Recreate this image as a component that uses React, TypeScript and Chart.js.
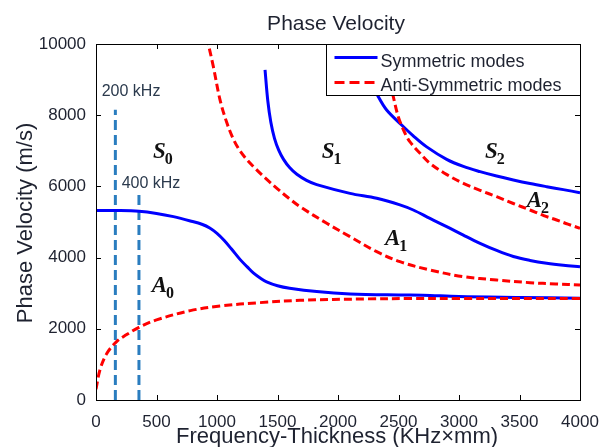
import React, { useEffect, useRef } from 'react';
import { Chart, registerables } from 'chart.js';

Chart.register(...registerables);

// ---- data (frequency-thickness in KHz·mm, phase velocity in m/s) ----
const S0_X = [0, 200, 355, 500, 640, 780, 880, 940, 1000, 1060, 1120, 1190, 1250, 1300, 1360, 1410, 1500, 1600, 1824, 2100, 2500, 2700, 3000, 3500, 4000];
const S0_Y = [5320, 5320, 5300, 5240, 5150, 5030, 4930, 4830, 4680, 4480, 4240, 3950, 3740, 3570, 3420, 3320, 3210, 3140, 3045, 2980, 2950, 2945, 2905, 2880, 2860];

const S1_X = [1397, 1420, 1445, 1475, 1510, 1550, 1600, 1660, 1740, 1824, 2099, 2320, 2512, 2622, 2760, 2898, 3036, 3174, 3311, 3449, 3587, 3725, 3862, 4000];
const S1_Y = [9270, 8400, 7800, 7350, 7020, 6760, 6530, 6340, 6170, 6050, 5805, 5665, 5480, 5337, 5100, 4870, 4630, 4400, 4200, 4030, 3920, 3840, 3785, 3745];

const S2_X = [2250, 2333, 2402, 2526, 2622, 2733, 2898, 3036, 3174, 3311, 3449, 3587, 3725, 3862, 4000];
const S2_Y = [9100, 8520, 8146, 7725, 7420, 7110, 6760, 6560, 6414, 6290, 6180, 6080, 5992, 5910, 5824];

const A0_X = [0, 33, 88, 170, 250, 355, 500, 780, 1025, 1355, 1686, 2237, 2600, 3000, 4000];
const A0_Y = [300, 850, 1300, 1640, 1830, 2040, 2250, 2510, 2640, 2735, 2800, 2840, 2850, 2850, 2850];

const A1_X = [915, 970, 1025, 1080, 1135, 1190, 1250, 1320, 1400, 1500, 1600, 1686, 1907, 2099, 2320, 2512, 2760, 3036, 3311, 3587, 3800, 4000];
const A1_Y = [10200, 9360, 8430, 7800, 7330, 7000, 6740, 6490, 6230, 5930, 5650, 5430, 4963, 4588, 4166, 3885, 3652, 3464, 3371, 3296, 3260, 3230];

const A2_X = [2430, 2457, 2498, 2539, 2568, 2595, 2678, 2760, 2900, 3036, 3174, 3311, 3449, 3587, 3700, 3807, 3900, 4000];
const A2_Y = [8950, 8520, 7958, 7600, 7397, 7250, 6929, 6648, 6330, 6086, 5890, 5711, 5520, 5337, 5180, 5056, 4940, 4822];

const F200_X = [160, 160];
const F200_Y = [0, 8150];
const F400_X = [355, 355];
const F400_Y = [0, 5850];

const X_MIN = 0, X_MAX = 4000, X_STEP = 500;
const Y_MIN = 0, Y_MAX = 10000, Y_STEP = 2000;

const TITLE = 'Phase Velocity';
const X_TITLE = 'Frequency-Thickness (KHz\u00D7mm)';
const Y_TITLE = 'Phase Velocity (m/s)';
const LEGEND_LABELS = ['Symmetric modes', 'Anti-Symmetric modes'];

// mode annotations (anchored in data units)
const MODE_MAIN = ['S', 'S', 'S', 'A', 'A', 'A'];
const MODE_SUB = ['0', '1', '2', '0', '1', '2'];
const MODE_X = [471, 1865, 3215, 460, 2388, 3559];
const MODE_Y = [6798, 6798, 6790, 3034, 4354, 5430];

const FREQ_TEXT = ['200 kHz', '400 kHz'];
const FREQ_TX = [47, 212];
const FREQ_TY = [8540, 5947];

const SANS = '"Liberation Sans", Arial, sans-serif';
const SERIF = '"Liberation Serif", "Times New Roman", serif';
const TEXT = '#1e2230';
const BLUE = '#0000ff';
const RED = '#ff0000';
const STEEL = '#2a7dbf';

const pts = (xs: number[], ys: number[]) => xs.map((v, i) => ({ x: v, y: ys[i] }));

const overlay = {
  id: 'overlay',
  afterDatasetsDraw(chart: any) {
    const { ctx, chartArea: ca, scales } = chart;
    const sx = scales.x, sy = scales.y;
    ctx.save();

    // mode labels
    ctx.fillStyle = '#111';
    ctx.textAlign = 'left';
    ctx.textBaseline = 'alphabetic';
    for (let i = 0; i < MODE_MAIN.length; i++) {
      const px = sx.getPixelForValue(MODE_X[i]);
      const py = sy.getPixelForValue(MODE_Y[i]);
      ctx.font = 'italic bold 23px ' + SERIF;
      ctx.fillText(MODE_MAIN[i], px, py);
      const w = ctx.measureText(MODE_MAIN[i]).width;
      ctx.font = 'bold 16px ' + SERIF;
      ctx.fillText(MODE_SUB[i], px + w - 1, py + 6);
    }

    // frequency labels
    ctx.font = '16px ' + SANS;
    ctx.fillStyle = '#2b3a4d';
    for (let i = 0; i < FREQ_TEXT.length; i++) {
      ctx.fillText(FREQ_TEXT[i], sx.getPixelForValue(FREQ_TX[i]), sy.getPixelForValue(FREQ_TY[i]));
    }

    // axes box + inward ticks
    ctx.strokeStyle = '#000';
    ctx.lineWidth = 1;
    ctx.setLineDash([]);
    ctx.beginPath();
    for (let v = X_MIN; v <= X_MAX; v += X_STEP) {
      const px = Math.round(sx.getPixelForValue(v)) + 0.5;
      ctx.moveTo(px, ca.bottom); ctx.lineTo(px, ca.bottom - 5);
      ctx.moveTo(px, ca.top); ctx.lineTo(px, ca.top + 5);
    }
    for (let v = Y_MIN; v <= Y_MAX; v += Y_STEP) {
      const py = Math.round(sy.getPixelForValue(v)) + 0.5;
      ctx.moveTo(ca.left, py); ctx.lineTo(ca.left + 5, py);
      ctx.moveTo(ca.right, py); ctx.lineTo(ca.right - 5, py);
    }
    ctx.stroke();
    ctx.strokeRect(ca.left + 0.5, ca.top + 0.5, ca.right - ca.left, ca.bottom - ca.top);

    // legend
    const lw = 254, lh = 51;
    const lx = ca.right - lw + 0.5, ly = ca.top + 0.5;
    ctx.fillStyle = '#fff';
    ctx.fillRect(lx, ly, lw, lh);
    ctx.strokeStyle = '#000';
    ctx.strokeRect(lx, ly, lw, lh);
    ctx.lineWidth = 3;
    ctx.strokeStyle = BLUE;
    ctx.beginPath(); ctx.moveTo(lx + 8, ly + 13); ctx.lineTo(lx + 51, ly + 13); ctx.stroke();
    ctx.strokeStyle = RED;
    ctx.setLineDash([10, 5]);
    ctx.beginPath(); ctx.moveTo(lx + 8, ly + 38); ctx.lineTo(lx + 51, ly + 38); ctx.stroke();
    ctx.setLineDash([]);
    ctx.fillStyle = TEXT;
    ctx.font = '18px ' + SANS;
    ctx.fillText(LEGEND_LABELS[0], lx + 54, ly + 22);
    ctx.fillText(LEGEND_LABELS[1], lx + 54, ly + 46);

    // titles
    ctx.fillStyle = TEXT;
    ctx.textAlign = 'center';
    ctx.font = '21px ' + SANS;
    ctx.fillText(TITLE, (ca.left + ca.right) / 2 - 2, 30);
    ctx.font = '22px ' + SANS;
    ctx.fillText(X_TITLE, (ca.left + ca.right) / 2 - 1, 443);
    ctx.translate(32, (ca.top + ca.bottom) / 2 + 1);
    ctx.rotate(-Math.PI / 2);
    ctx.fillText(Y_TITLE, 0, 0);
    ctx.restore();
  },
};

export default function App() {
  const ref = useRef<HTMLCanvasElement | null>(null);

  useEffect(() => {
    if (!ref.current) return;
    const curve = (data: any, color: string, dashed: boolean, order: number) => ({
      data,
      borderColor: color,
      backgroundColor: color,
      borderWidth: 3,
      borderDash: dashed ? [8, 4] : [],
      pointRadius: 0,
      fill: false,
      tension: 0.35,
      order,
    });
    const vline = (data: any) => ({
      data,
      borderColor: STEEL,
      backgroundColor: STEEL,
      borderWidth: 3,
      borderDash: [10, 5],
      pointRadius: 0,
      fill: false,
      tension: 0,
      order: 5,
    });
    const plain = (v: any) => String(v);
    const chart = new Chart(ref.current, {
      type: 'line',
      data: {
        datasets: [
          curve(pts(S0_X, S0_Y), BLUE, false, 2),
          curve(pts(S1_X, S1_Y), BLUE, false, 2),
          curve(pts(S2_X, S2_Y), BLUE, false, 2),
          curve(pts(A0_X, A0_Y), RED, true, 1),
          curve(pts(A1_X, A1_Y), RED, true, 1),
          curve(pts(A2_X, A2_Y), RED, true, 1),
          vline(pts(F200_X, F200_Y)),
          vline(pts(F400_X, F400_Y)),
        ] as any,
      },
      options: {
        responsive: false,
        devicePixelRatio: 1,
        animation: false,
        events: [],
        layout: { padding: { top: 44, right: 21, left: 0, bottom: 0 } },
        plugins: { legend: { display: false }, tooltip: { enabled: false }, title: { display: false } },
        scales: {
          x: {
            type: 'linear',
            min: X_MIN,
            max: X_MAX,
            grid: { display: false },
            border: { display: false },
            ticks: { stepSize: X_STEP, padding: 4, maxRotation: 0, color: TEXT, font: { family: SANS, size: 17 }, callback: plain },
            afterFit: (s: any) => { s.height = 47; s.paddingLeft = 0; s.paddingRight = 0; },
          },
          y: {
            type: 'linear',
            min: Y_MIN,
            max: Y_MAX,
            grid: { display: false },
            border: { display: false },
            ticks: { stepSize: Y_STEP, padding: 2, color: TEXT, font: { family: SANS, size: 17 }, callback: plain },
            afterFit: (s: any) => { s.width = 96; s.paddingTop = 0; s.paddingBottom = 0; },
          },
        },
      } as any,
      plugins: [overlay],
    });
    return () => chart.destroy();
  }, []);

  return (
    <div style={{ position: 'absolute', left: 0, top: 0, width: 601, height: 447, background: '#fff' }}>
      <canvas ref={ref} width={601} height={447} style={{ display: 'block', width: 601, height: 447 }} />
    </div>
  );
}
